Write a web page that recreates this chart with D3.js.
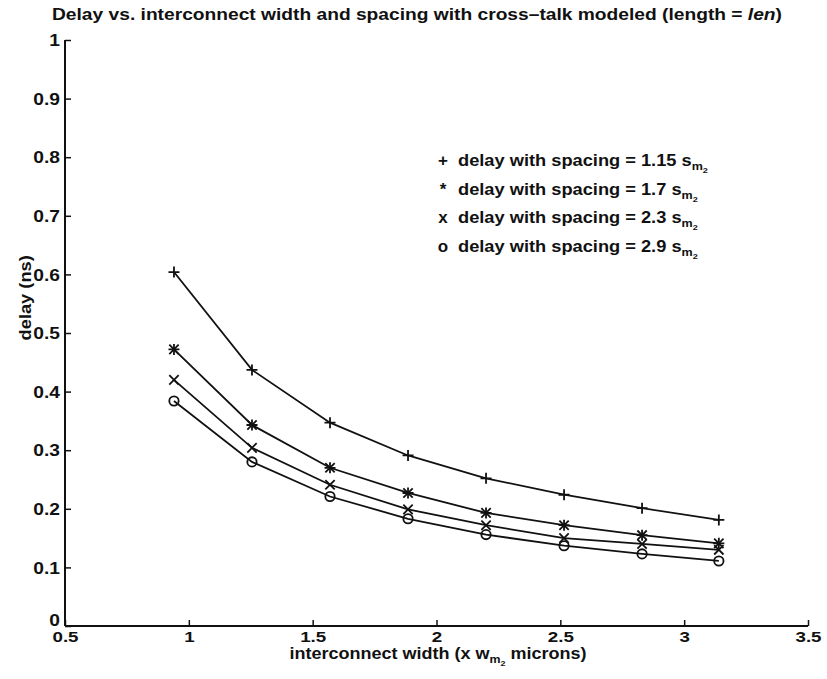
<!DOCTYPE html>
<html>
<head>
<meta charset="utf-8">
<script src="https://cdn.jsdelivr.net/npm/d3@7"></script>
<style>
  body { margin: 0; background: #fff; }
  text { font-family: "Liberation Sans", Arial, Helvetica, sans-serif; fill: #111; }
</style>
</head>
<body>
<div id="chart"></div>
<script>
// interconnect width (x w_m2 microns)
const widths = [0.94, 1.255, 1.57, 1.885, 2.2, 2.515, 2.83, 3.14];

// delay (ns) for each spacing
const delay115 = [0.604, 0.437, 0.347, 0.291, 0.252, 0.224, 0.201, 0.181];
const delay17  = [0.472, 0.343, 0.270, 0.227, 0.193, 0.172, 0.155, 0.141];
const delay23  = [0.420, 0.304, 0.241, 0.199, 0.172, 0.150, 0.140, 0.130];
const delay29  = [0.384, 0.280, 0.221, 0.183, 0.156, 0.137, 0.123, 0.111];

const spacings = ["1.15", "1.7", "2.3", "2.9"];
const markers = ["plus", "star", "cross", "circle"];
const legendSymbols = ["+", "*", "x", "o"];

const xTicks = [0.5, 1, 1.5, 2, 2.5, 3, 3.5];
const yTicks = [0, 0.1, 0.2, 0.3, 0.4, 0.5, 0.6, 0.7, 0.8, 0.9, 1];

const series = [delay115, delay17, delay23, delay29];

const width = 827, height = 679;
const margin = { top: 40, right: 19, bottom: 53, left: 65 };
const stretch = 1.14; // the scanned type is wider than Liberation Sans

const svg = d3.select("#chart").append("svg")
    .attr("width", width)
    .attr("height", height);

const x = d3.scaleLinear()
    .domain([0.5, 3.5])
    .range([margin.left, width - margin.right]);

const y = d3.scaleLinear()
    .domain([0, 1])
    .range([height - margin.bottom, margin.top]);

// widen a text element horizontally
function widen(t, len) {
    const w = t.node().getComputedTextLength();
    t.attr("textLength", len || w * stretch).attr("lengthAdjust", "spacingAndGlyphs");
}

// axes: ticks point inward, no box
const xAxis = d3.axisTop(x)
    .tickValues(xTicks)
    .tickSize(6)
    .tickFormat(d3.format("~g"));

const yAxis = d3.axisRight(y)
    .tickValues(yTicks)
    .tickSize(6)
    .tickFormat(d3.format("~g"));

const gx = svg.append("g")
    .attr("transform", `translate(0,${y(0)})`)
    .call(xAxis);
gx.select(".domain").attr("d", `M${x(0.5)},0H${x(3.5)}`).attr("stroke", "#111").attr("stroke-width", 2);
gx.selectAll(".tick line").attr("stroke", "#111").attr("stroke-width", 1.5);
gx.selectAll(".tick text")
    .attr("y", 16)
    .attr("dy", 0)
    .style("font-size", "15px")
    .style("font-weight", "bold")
    .each(function() { widen(d3.select(this), this.getComputedTextLength() * 1.25); });

const gy = svg.append("g")
    .attr("transform", `translate(${x(0.5)},0)`)
    .call(yAxis);
gy.select(".domain").attr("d", `M0,${y(1)}V${y(0)}`).attr("stroke", "#111").attr("stroke-width", 2);
gy.selectAll(".tick line").attr("stroke", "#111").attr("stroke-width", 1.5);
gy.selectAll(".tick text")
    .attr("x", -5)
    .attr("dy", d => d === 0 ? "-0.05em" : "0.35em")
    .attr("text-anchor", "end")
    .style("font-size", "16px")
    .style("font-weight", "bold")
    .each(function() { widen(d3.select(this), this.getComputedTextLength() * 1.2); });

// lines
const line = d3.line()
    .x((d, i) => x(widths[i]))
    .y(d => y(d));

svg.selectAll(".series")
    .data(series)
    .enter().append("path")
    .attr("class", "series")
    .attr("d", line)
    .attr("fill", "none")
    .attr("stroke", "#111")
    .attr("stroke-width", 1.8);

// markers
function drawMarker(g, type, cx, cy, r) {
    const s = g.append("g")
        .attr("transform", `translate(${cx},${cy})`)
        .attr("stroke", "#111")
        .attr("fill", "none")
        .attr("stroke-width", 1.8);
    if (type === "plus" || type === "star") {
        s.append("path").attr("d", `M${-r},0H${r}M0,${-r}V${r}`);
    }
    if (type === "cross" || type === "star") {
        const k = r * 0.85;
        s.append("path").attr("d", `M${-k},${-k}L${k},${k}M${-k},${k}L${k},${-k}`);
    }
    if (type === "circle") {
        s.append("circle").attr("r", r * 0.85);
    }
}

series.forEach((vals, si) => {
    const g = svg.append("g");
    vals.forEach((v, i) => drawMarker(g, markers[si], x(widths[i]), y(v), 5.5));
});

// title
svg.append("text")
    .attr("x", 417)
    .attr("y", 20)
    .attr("text-anchor", "middle")
    .style("font-size", "16px")
    .style("font-weight", "bold")
    .call(t => {
        t.append("tspan").text("Delay vs. interconnect width and spacing with cross\u2013talk modeled (length = ");
        t.append("tspan").style("font-style", "italic").text("len");
        t.append("tspan").text(")");
    })
    .call(t => widen(t, 730));

// x label
svg.append("text")
    .attr("x", 438)
    .attr("y", 659)
    .attr("text-anchor", "middle")
    .style("font-size", "16px")
    .style("font-weight", "bold")
    .call(t => {
        t.append("tspan").text("interconnect width (x w");
        t.append("tspan").attr("dy", 4).style("font-size", "11px").text("m");
        t.append("tspan").attr("dy", 3).style("font-size", "8px").text("2");
        t.append("tspan").attr("dy", -7).text(" microns)");
    })
    .call(t => widen(t, 297));

// y label
svg.append("text")
    .attr("transform", `translate(31,${y(0.56)}) rotate(-90)`)
    .attr("text-anchor", "middle")
    .style("font-size", "16px")
    .style("font-weight", "bold")
    .text("delay (ns)")
    .call(t => widen(t));

// legend
const legend = svg.append("g").attr("transform", "translate(443,160)");
spacings.forEach((sp, i) => {
    const row = legend.append("g").attr("transform", `translate(0,${i * 28.5})`);
    row.append("text")
        .attr("x", 0)
        .attr("y", 6)
        .attr("text-anchor", "middle")
        .style("font-size", "17px")
        .style("font-weight", "bold")
        .text(legendSymbols[i]);
    row.append("text")
        .attr("x", 15)
        .attr("y", 6)
        .style("font-size", "16px")
        .style("font-weight", "bold")
        .call(t => {
            t.append("tspan").text(`delay with spacing = ${sp} s`);
            t.append("tspan").attr("dy", 4).style("font-size", "11px").text("m");
            t.append("tspan").attr("dy", 3).style("font-size", "8px").text("2");
        })
        .call(t => widen(t));
});
</script>
</body>
</html>
